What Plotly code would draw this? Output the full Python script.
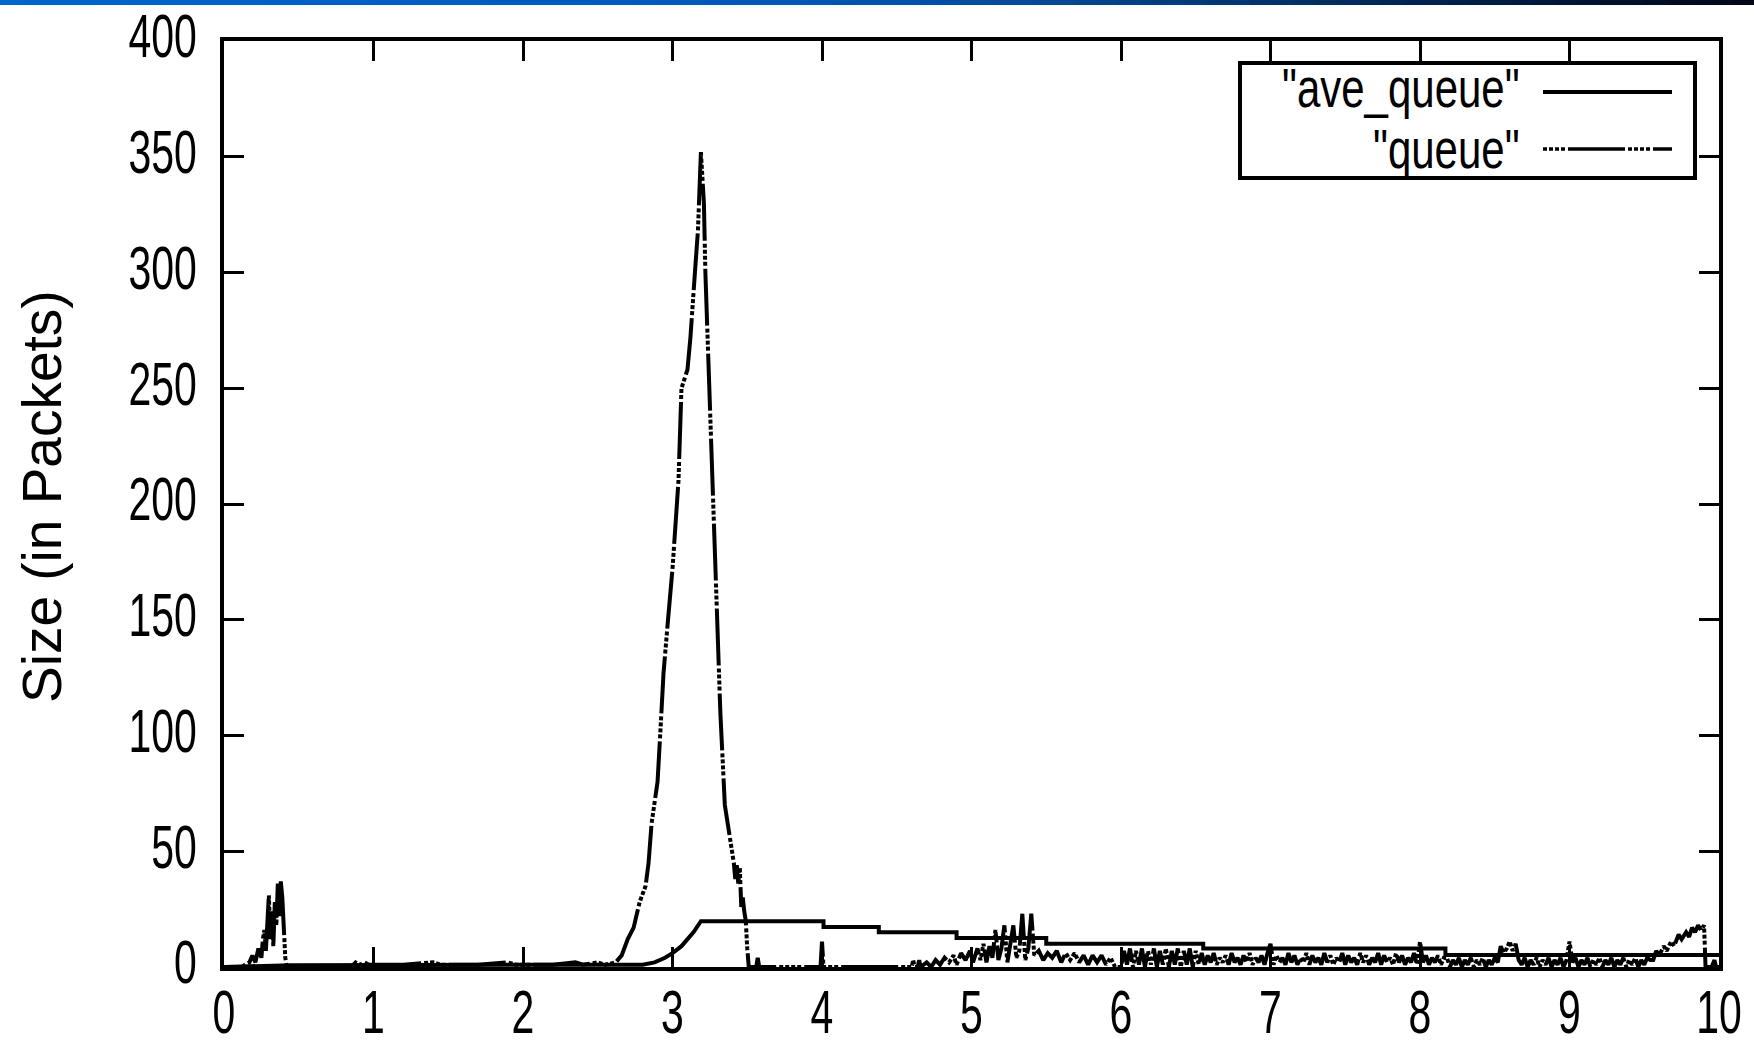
import plotly.graph_objects as go

# ---------------------------------------------------------------
# RED queue trace: instantaneous queue and averaged queue (packets)
# ---------------------------------------------------------------

# instantaneous queue, early burst
q_t_start = [0.00, 0.12, 0.14, 0.17, 0.19, 0.21, 0.23, 0.25, 0.26, 0.27, 0.28, 0.29, 0.30,
             0.31, 0.32, 0.33, 0.34, 0.35, 0.36, 0.37, 0.38, 0.39, 0.40, 0.41, 0.42]
q_v_start = [0, 0, 1, 2, 5, 2, 8, 4, 12, 16, 7, 20, 31,
             12, 24, 9, 28, 18, 36, 22, 37, 30, 14, 4, 0]

# near-empty period
q_t_idle = [0.85, 0.88, 0.91, 0.94, 0.97, 1.20, 1.40, 1.45, 1.70, 1.90, 1.95, 2.20,
            2.35, 2.40, 2.50, 2.55, 2.60]
q_v_idle = [0, 2, 1, 2, 1, 1, 2, 1, 1, 2, 1, 1,
            2, 1, 2, 1, 2]

# congestion peak
q_t_peak = [2.62, 2.66, 2.70, 2.74, 2.78, 2.82, 2.84, 2.86, 2.90, 2.92, 2.94, 2.97,
            3.00, 3.04, 3.06, 3.10, 3.12, 3.15, 3.17, 3.19, 3.21, 3.22, 3.24, 3.265,
            3.29, 3.32, 3.35, 3.38, 3.40, 3.41, 3.42, 3.43, 3.44, 3.45, 3.46, 3.47,
            3.48, 3.49, 3.50, 3.51]
q_v_peak = [2, 5, 12, 17, 28, 35, 45, 62, 80, 103, 127, 150,
            172, 210, 250, 258, 272, 300, 318, 352, 330, 300, 260, 210,
            160, 110, 70, 58, 48, 45, 38, 44, 36, 43, 26, 30,
            24, 20, 8, 0]

# drained queue, isolated arrivals
q_t_drain = [3.56, 3.57, 3.58, 3.99, 4.00, 4.01, 4.60, 4.61, 4.62, 4.64, 4.65, 4.66]
q_v_drain = [0, 4, 0, 0, 11, 0, 0, 3, 0, 0, 3, 0]

# second busy period
q_t_busy = [4.70, 4.73, 4.76, 4.79, 4.82, 4.85, 4.88, 4.90, 4.93, 4.96, 4.99, 5.01,
            5.04, 5.06, 5.08, 5.10, 5.12, 5.14, 5.16, 5.18, 5.20, 5.22, 5.24, 5.26,
            5.28, 5.30, 5.32, 5.34, 5.36, 5.38, 5.40, 5.42, 5.45, 5.48, 5.51, 5.54,
            5.57, 5.60, 5.63, 5.66, 5.69, 5.72, 5.75, 5.78, 5.81, 5.84, 5.87, 5.90,
            5.93, 5.96, 5.98]
q_v_busy = [2, 0, 3, 1, 4, 2, 5, 1, 6, 3, 7, 2,
            8, 3, 10, 2, 9, 4, 16, 3, 8, 18, 2, 9,
            18, 4, 7, 23, 3, 8, 23, 5, 7, 3, 6, 4,
            7, 2, 6, 3, 6, 2, 5, 1, 5, 2, 5, 1,
            4, 0, 0]

# dense oscillation
q_t_dense = [6.00, 6.02, 6.04, 6.06, 6.08, 6.10, 6.12, 6.14, 6.16, 6.18, 6.20, 6.22,
             6.24, 6.26, 6.28, 6.30, 6.32, 6.34, 6.36, 6.38, 6.40, 6.42, 6.44, 6.46,
             6.48, 6.50, 6.52, 6.54]
q_v_dense = [0, 7, 1, 8, 0, 7, 1, 8, 0, 7, 1, 8,
             0, 7, 1, 8, 0, 7, 1, 8, 0, 7, 1, 8,
             0, 7, 1, 6]

# low steady load
q_t_low = [6.56, 6.58, 6.60, 6.62, 6.64, 6.66, 6.68, 6.70, 6.72, 6.74, 6.76, 6.78,
           6.80, 6.82, 6.84, 6.86, 6.88, 6.90, 6.92, 6.94, 6.96, 6.98, 7.00, 7.02,
           7.04, 7.06, 7.08, 7.10, 7.12, 7.14, 7.16, 7.18, 7.20, 7.22, 7.24, 7.26,
           7.28, 7.30, 7.32, 7.34, 7.36, 7.38, 7.40, 7.42, 7.44, 7.46, 7.48, 7.50,
           7.52, 7.54, 7.56, 7.58, 7.60, 7.62, 7.64, 7.66, 7.68, 7.70, 7.72, 7.74,
           7.76, 7.78, 7.80, 7.82, 7.84, 7.86, 7.88, 7.90, 7.92, 7.94, 7.96, 7.98,
           8.00, 8.02, 8.04, 8.06, 8.08, 8.10, 8.12, 8.14, 8.16]
q_v_low = [1, 5, 2, 6, 1, 4, 2, 5, 1, 6, 2, 4,
           1, 5, 2, 6, 1, 4, 2, 5, 1, 6, 10, 1,
           5, 2, 4, 1, 6, 2, 5, 1, 4, 2, 6, 1,
           5, 2, 4, 1, 6, 2, 5, 1, 4, 2, 6, 1,
           5, 2, 4, 1, 6, 2, 5, 1, 4, 2, 6, 1,
           5, 2, 4, 1, 6, 2, 5, 1, 4, 2, 6, 1,
           11, 2, 5, 1, 4, 2, 5, 1, 4]

q_t_tail = [8.18, 8.20, 8.22, 8.24, 8.26, 8.28, 8.30, 8.32, 8.34, 8.36, 8.38, 8.40,
            8.42, 8.44, 8.46, 8.48, 8.50, 8.52, 8.54, 8.56, 8.58, 8.60, 8.62, 8.64,
            8.66, 8.68, 8.70, 8.72, 8.74, 8.76, 8.78, 8.80, 8.82, 8.84, 8.86, 8.88,
            8.90, 8.92, 8.94, 8.96, 8.98, 9.00, 9.02, 9.04, 9.06, 9.08, 9.10, 9.12,
            9.14, 9.16, 9.18, 9.20, 9.22, 9.24, 9.26, 9.28, 9.30, 9.32, 9.34, 9.36,
            9.38, 9.40, 9.42, 9.44, 9.46, 9.48, 9.50, 9.52, 9.54]
q_v_tail = [4, 0, 3, 1, 4, 0, 3, 1, 4, 0, 3, 1,
            4, 0, 3, 1, 4, 2, 9, 6, 8, 11, 7, 10,
            3, 1, 4, 0, 3, 1, 4, 0, 3, 1, 4, 0,
            3, 1, 4, 0, 3, 11, 2, 4, 0, 3, 1, 4,
            0, 3, 1, 4, 0, 3, 1, 4, 0, 3, 1, 4,
            0, 3, 1, 4, 0, 3, 1, 4, 3]

# final build-up
q_t_end = [9.56, 9.58, 9.60, 9.63, 9.65, 9.68, 9.70, 9.73, 9.75, 9.78, 9.80, 9.82,
           9.84, 9.86, 9.88, 9.90, 9.91, 9.95, 9.97, 9.98, 10.00]
q_v_end = [3, 7, 5, 9, 7, 11, 9, 14, 12, 15, 13, 17,
           15, 18, 16, 18, 0, 0, 3, 0, 0]

# averaged queue (EWMA)
ave_t = [0.00, 0.30, 0.45, 2.80, 2.88, 2.95, 3.00, 3.06, 3.10, 3.14, 3.19, 4.01,
         4.01, 4.38, 4.38, 4.90, 4.90, 5.50, 5.50, 6.55, 6.55, 8.17, 8.17, 10.00]
ave_v = [0.0, 0.4, 0.8, 1.0, 2.0, 4.0, 6.0, 9.0, 12.0, 15.0, 19.8, 19.8,
         17.3, 17.3, 15.0, 15.0, 12.5, 12.5, 10.0, 10.0, 8.0, 8.0, 5.2, 5.2]

x_ticks = [0, 1, 2, 3, 4, 5, 6, 7, 8, 9, 10]
y_ticks = [0, 50, 100, 150, 200, 250, 300, 350, 400]
series_names = ['"ave_queue"', '"queue"']
y_title = "Size (in Packets)"

queue_t = (q_t_start + q_t_idle + q_t_peak + q_t_drain + q_t_busy + q_t_dense
           + q_t_low + q_t_tail + q_t_end)
queue_v = (q_v_start + q_v_idle + q_v_peak + q_v_drain + q_v_busy + q_v_dense
           + q_v_low + q_v_tail + q_v_end)

# ---------------------------------------------------------------
# page geometry (pixels)
# ---------------------------------------------------------------
W, H = 1754, 1048
L, R, T, B = 224, 1719, 41, 967


def px(X):
    return (X - L) / (R - L)


def py(Y):
    return (B - Y) / (B - T)


FONT = "Liberation Sans, Arial, Helvetica, sans-serif"
QUEUE_DASH = "4px,2px,4px,2px,4px,2px,4px,3px,57px,3px"

fig = go.Figure()

fig.add_trace(go.Scatter(
    x=ave_t, y=ave_v, mode="lines", name=series_names[0],
    line=dict(color="black", width=4), showlegend=False,
))
fig.add_trace(go.Scatter(
    x=queue_t, y=queue_v, mode="lines", name=series_names[1],
    line=dict(color="black", width=4, dash=QUEUE_DASH), showlegend=False,
))

axis_common = dict(
    showline=True, linecolor="black", linewidth=4, mirror="ticks",
    ticks="inside", ticklen=20, tickwidth=3, tickcolor="black",
    showgrid=False, zeroline=False,
    tickfont=dict(family=FONT, size=41, color="black"),
)

fig.update_xaxes(range=[0, 10], tickvals=x_ticks, ticktext=[str(v) for v in x_ticks],
                 ticklabelstandoff=6, **axis_common)
fig.update_yaxes(range=[0, 400], tickvals=y_ticks, ticktext=[str(v) for v in y_ticks],
                 ticklabelstandoff=15, ticklabelshift=-5, **axis_common)

shapes = []

# gradient banner along the top edge
stops = [(0.0, (0, 102, 204)), (0.45, (0, 88, 184)), (0.6, (0, 72, 150)),
         (0.75, (0, 46, 98)), (0.9, (0, 20, 52)), (1.0, (2, 6, 22))]
n_slices = 80
for i in range(n_slices):
    f = (i + 0.5) / n_slices
    for j in range(len(stops) - 1):
        if stops[j][0] <= f <= stops[j + 1][0]:
            a, ca = stops[j]
            b, cb = stops[j + 1]
            k = (f - a) / (b - a)
            c = tuple(int(round(ca[m] + (cb[m] - ca[m]) * k)) for m in range(3))
            break
    x0 = W * i / n_slices
    x1 = W * (i + 1) / n_slices + 1
    shapes.append(dict(type="rect", xref="paper", yref="paper",
                       x0=px(x0), x1=px(x1), y0=py(5), y1=py(0),
                       fillcolor="rgb(%d,%d,%d)" % c, line=dict(width=0), layer="above"))

# key box and samples
shapes.append(dict(type="rect", xref="paper", yref="paper",
                   x0=px(1240), x1=px(1695), y0=py(178), y1=py(63),
                   line=dict(color="black", width=4), fillcolor="rgba(0,0,0,0)"))
shapes.append(dict(type="line", xref="paper", yref="paper",
                   x0=px(1543), x1=px(1672), y0=py(92), y1=py(92),
                   line=dict(color="black", width=4)))
shapes.append(dict(type="line", xref="paper", yref="paper",
                   x0=px(1543), x1=px(1672), y0=py(149), y1=py(149),
                   line=dict(color="black", width=3.5, dash=QUEUE_DASH)))

annotations = [
    dict(text=series_names[0], xref="paper", yref="paper", x=px(1522), y=py(89),
         xanchor="right", yanchor="middle", showarrow=False,
         font=dict(family=FONT, size=42, color="black")),
    dict(text=series_names[1], xref="paper", yref="paper", x=px(1522), y=py(150),
         xanchor="right", yanchor="middle", showarrow=False,
         font=dict(family=FONT, size=42, color="black")),
    dict(text=y_title, xref="paper", yref="paper", x=px(42), y=py(497),
         xanchor="center", yanchor="middle", textangle=-90, showarrow=False,
         font=dict(family=FONT, size=55, color="black")),
]

fig.update_layout(
    width=W, height=H,
    margin=dict(l=L, r=W - R, t=T, b=H - B, autoexpand=False),
    paper_bgcolor="white", plot_bgcolor="white",
    showlegend=False,
    shapes=shapes, annotations=annotations,
)

# tall, condensed lettering for tick numbers and key entries:
# stretch each label vertically about its own centre
STRETCH_JS = """
var gd = document.getElementById('{plot_id}');
function stretchText(el, k) {
  var bb = el.getBBox();
  var cy = bb.y + bb.height / 2;
  var t = el.getAttribute('transform') || '';
  el.setAttribute('transform', t + ' translate(0,' + cy + ') scale(1,' + k + ') translate(0,' + (-cy) + ')');
}
gd.querySelectorAll('g.xtick text, g.ytick text').forEach(function (el) { stretchText(el, 1.5); });
gd.querySelectorAll('g.annotation').forEach(function (g) {
  if (g.getAttribute('data-index') !== '2') {
    var el = g.querySelector('text.annotation-text');
    if (el) { stretchText(el, 1.3); }
  }
});
"""

fig.write_html("out.html", post_script=STRETCH_JS)
